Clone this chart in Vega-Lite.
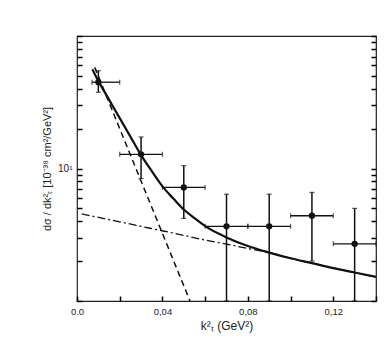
{
  "$schema": "https://vega.github.io/schema/vega-lite/v6.json",
  "width": 299,
  "height": 265,
  "autosize": "none",
  "padding": {"left": 77, "top": 36, "right": 14, "bottom": 47},
  "background": "white",
  "config": {
    "view": {"stroke": "#222", "strokeWidth": 1.2},
    "axis": {"ticks": true, "zindex": 1, "domainColor": "#222", "tickColor": "#000", "labelColor": "#222", "titleColor": "#222", "labelFont": "Liberation Sans", "titleFont": "Liberation Sans", "grid": false, "titleFontWeight": "normal", "tickWidth": 1.5, "tickOpacity": 1}
  },
  "datasets": {
    "points": [
      {"x": 0.01, "y": 44.8, "xlo": 0.007, "xhi": 0.02, "ylo": 37.6, "yhi": 54.7},
      {"x": 0.03, "y": 12.8, "xlo": 0.02, "xhi": 0.04, "ylo": 8.4, "yhi": 17.3},
      {"x": 0.05, "y": 7.2, "xlo": 0.04, "xhi": 0.06, "ylo": 4.2, "yhi": 10.5},
      {"x": 0.07, "y": 3.66, "xlo": 0.06, "xhi": 0.08, "ylo": 1, "yhi": 6.4},
      {"x": 0.09, "y": 3.66, "xlo": 0.08, "xhi": 0.1, "ylo": 1, "yhi": 6.4},
      {"x": 0.11, "y": 4.4, "xlo": 0.1, "xhi": 0.12, "ylo": 2.0, "yhi": 6.6},
      {"x": 0.13, "y": 2.7, "xlo": 0.12, "xhi": 0.14, "ylo": 1, "yhi": 5.0}
    ],
    "solid": [
      {"x": 0.0072, "y": 56.2}, {"x": 0.01, "y": 45.7}, {"x": 0.015, "y": 33.1}, {"x": 0.02, "y": 24.0},
      {"x": 0.025, "y": 17.4}, {"x": 0.03, "y": 12.6}, {"x": 0.035, "y": 9.55}, {"x": 0.04, "y": 7.33},
      {"x": 0.045, "y": 5.96}, {"x": 0.05, "y": 4.9}, {"x": 0.055, "y": 4.22}, {"x": 0.06, "y": 3.67},
      {"x": 0.07, "y": 3.02}, {"x": 0.08, "y": 2.6}, {"x": 0.09, "y": 2.32}, {"x": 0.1, "y": 2.1},
      {"x": 0.11, "y": 1.93}, {"x": 0.12, "y": 1.77}, {"x": 0.13, "y": 1.64}, {"x": 0.14, "y": 1.52}
    ],
    "dashed": [
      {"x": 0.0083, "y": 58}, {"x": 0.0529, "y": 1.0}
    ],
    "dashdot": [
      {"x": 0.0022, "y": 4.54}, {"x": 0.02, "y": 3.96}, {"x": 0.0342, "y": 3.54}, {"x": 0.05, "y": 3.13},
      {"x": 0.06, "y": 2.88}, {"x": 0.07, "y": 2.69}, {"x": 0.08, "y": 2.49}, {"x": 0.09, "y": 2.32},
      {"x": 0.1, "y": 2.1}, {"x": 0.11, "y": 1.93}, {"x": 0.12, "y": 1.77}, {"x": 0.13, "y": 1.64}, {"x": 0.14, "y": 1.52}
    ]
  },
  "layer": [
    {
      "layer": [
        {
          "data": {"name": "solid"},
          "mark": {"type": "line", "color": "#111", "strokeWidth": 2.2, "interpolate": "monotone", "clip": true},
          "encoding": {
            "x": {"field": "x", "type": "quantitative",
              "scale": {"domain": [0, 0.14], "nice": false, "zero": false},
              "axis": {"orient": "bottom", "values": [0, 0.01, 0.02, 0.03, 0.04, 0.05, 0.06, 0.07, 0.08, 0.09, 0.1, 0.11, 0.12, 0.13, 0.14],
                "labelExpr": "round(datum.value*100) % 4 == 0 ? (datum.value == 0 ? '0.0' : replace(format(datum.value, '.2f'), '.', ',')) : ''",
                "domain": false, "offset": -5, "ticks": true, "tickSize": 5, "labelPadding": 5, "labelFontSize": 9.5, "labelFlush": false,
                "title": "k²ₜ  (GeV²)", "titleFontSize": 12, "titlePadding": 5}},
            "y": {"field": "y", "type": "quantitative",
              "scale": {"type": "log", "domain": [1, 100], "nice": false},
              "axis": {"orient": "left", "values": [1, 2, 3, 4, 5, 6, 7, 8, 9, 10, 20, 30, 40, 50, 60, 70, 80, 90, 100],
                "labelExpr": "datum.value == 10 ? '10¹' : ''",
                "domain": false, "offset": -5, "ticks": true, "tickSize": 5, "labelPadding": 5, "labelFontSize": 10,
                "title": "dσ / dk²ₜ  [10⁻³⁸ cm²/GeV²]", "titleFontSize": 11, "titlePadding": 5}}
          }
        },
        {
          "data": {"name": "dashed"},
          "mark": {"type": "line", "color": "#111", "strokeWidth": 1.5, "strokeDash": [6, 4], "clip": true},
          "encoding": {
            "x": {"field": "x", "type": "quantitative"},
            "y": {"field": "y", "type": "quantitative"}
          }
        },
        {
          "data": {"name": "dashdot"},
          "mark": {"type": "line", "color": "#111", "strokeWidth": 1.3, "strokeDash": [8, 3, 2, 3], "interpolate": "monotone", "clip": true},
          "encoding": {
            "x": {"field": "x", "type": "quantitative"},
            "y": {"field": "y", "type": "quantitative"}
          }
        },
        {
          "data": {"name": "points"},
          "mark": {"type": "rule", "color": "#111", "strokeWidth": 1.3},
          "encoding": {
            "x": {"field": "xlo", "type": "quantitative"},
            "x2": {"field": "xhi"},
            "y": {"field": "y", "type": "quantitative"}
          }
        },
        {
          "data": {"name": "points"},
          "mark": {"type": "rule", "color": "#111", "strokeWidth": 1.5},
          "encoding": {
            "x": {"field": "x", "type": "quantitative"},
            "y": {"field": "ylo", "type": "quantitative"},
            "y2": {"field": "yhi"}
          }
        },
        {
          "data": {"name": "points"},
          "mark": {"type": "tick", "orient": "horizontal", "color": "#111", "size": 5, "thickness": 1.2},
          "encoding": {
            "x": {"field": "x", "type": "quantitative"},
            "y": {"field": "yhi", "type": "quantitative"}
          }
        },
        {
          "data": {"name": "points"},
          "mark": {"type": "tick", "orient": "horizontal", "color": "#111", "size": 5, "thickness": 1.2},
          "encoding": {
            "x": {"field": "x", "type": "quantitative"},
            "y": {"field": "ylo", "type": "quantitative"}
          }
        },
        {
          "data": {"name": "points"},
          "mark": {"type": "tick", "orient": "vertical", "color": "#111", "size": 5, "thickness": 1.2},
          "encoding": {
            "x": {"field": "xlo", "type": "quantitative"},
            "y": {"field": "y", "type": "quantitative"}
          }
        },
        {
          "data": {"name": "points"},
          "mark": {"type": "tick", "orient": "vertical", "color": "#111", "size": 5, "thickness": 1.2},
          "encoding": {
            "x": {"field": "xhi", "type": "quantitative"},
            "y": {"field": "y", "type": "quantitative"}
          }
        }
      ]
    },
    {
      "data": {"name": "points"},
      "mark": {"type": "point", "shape": "circle", "filled": true, "color": "#111", "size": 40, "opacity": 1},
      "encoding": {
        "x": {"field": "x", "type": "quantitative"},
        "y": {"field": "y", "type": "quantitative",
          "axis": {"orient": "right", "values": [1, 2, 3, 4, 5, 6, 7, 8, 9, 10, 20, 30, 40, 50, 60, 70, 80, 90, 100],
            "labels": false, "domain": false, "offset": -5, "ticks": true, "tickSize": 5, "title": null}}
      }
    }
  ]
}
